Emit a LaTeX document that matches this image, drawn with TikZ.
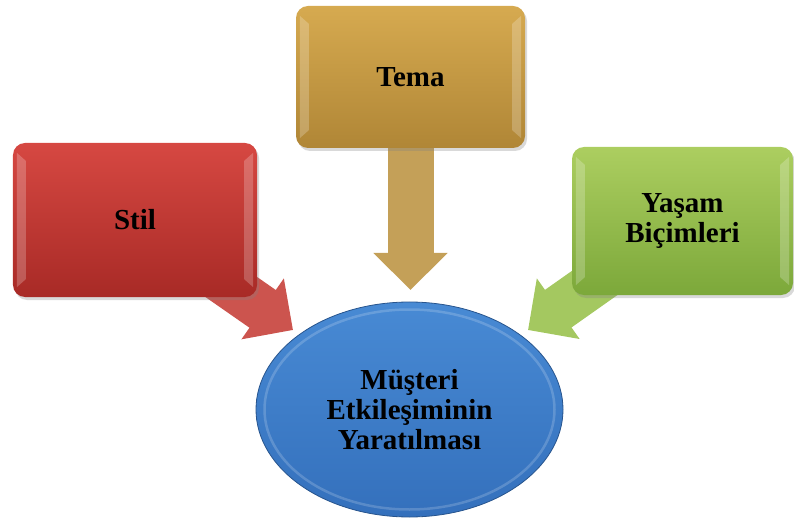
\documentclass[tikz,border=0pt]{standalone}
\usepackage{fontspec}
\setmainfont{Liberation Serif}
\usetikzlibrary{shapes.geometric,arrows.meta,shadows,backgrounds}
\definecolor{redtop}{RGB}{214,72,66}
\definecolor{redbot}{RGB}{168,42,38}
\definecolor{redarrow}{RGB}{204,84,78}
\definecolor{goldtop}{RGB}{214,170,80}
\definecolor{goldbot}{RGB}{176,134,54}
\definecolor{goldarrow}{RGB}{196,160,88}
\definecolor{greentop}{RGB}{172,206,96}
\definecolor{greenbot}{RGB}{124,168,58}
\definecolor{greenarrow}{RGB}{164,200,96}
\definecolor{bluetop}{RGB}{72,138,212}
\definecolor{bluebot}{RGB}{52,112,188}
\begin{document}
\begin{tikzpicture}
      [x=1bp, y=-1bp,
      box/.style={rounded corners=12bp, inner sep=0pt, align=center,
        font=\bfseries\fontsize{29bp}{30bp}\selectfont,
        drop shadow={shadow xshift=2bp, shadow yshift=-3bp, opacity=0.3}},
      blockarrow/.style={line width=46bp, -{Triangle[length=37bp, width=72bp]}}]
      \useasboundingbox (0,0) rectangle (794,520);
      \node[box, top color=redtop, bottom color=redbot,
        minimum width=244bp, minimum height=154bp](1) at (135, 220) {Stil};
      \node[box, top color=goldtop, bottom color=goldbot,
        minimum width=229bp, minimum height=142bp](2) at (410.5, 77) {Tema};
      \node[box, top color=greentop, bottom color=greenbot,
        minimum width=221bp, minimum height=148bp](3) at (682.5, 221) {Yaşam\\Biçimleri};
      \node[ellipse, inner sep=0pt, align=center, top color=bluetop, bottom color=bluebot,
        draw=bluebot!75!black, line width=0.8bp,
        font=\bfseries\fontsize{29bp}{30bp}\selectfont,
        minimum width=307bp, minimum height=215bp](5) at (409.5, 409.5) {Müşteri\\Etkileşiminin\\Yaratılması};
      \draw[white, opacity=0.18, line width=2.5bp] (5.center) ellipse [x radius=145, y radius=100];
      % arrow tips
      \coordinate(6) at (293, 330);
      \coordinate(7) at (410.5, 290);
      \coordinate(8) at (528, 330);
      \begin{scope}[on background layer]
        \draw[blockarrow, redarrow](1.center) -- (6);
        \draw[blockarrow, goldarrow](2.center) -- (7);
        \draw[blockarrow, greenarrow](3.center) -- (8);
      \end{scope}
      % bevel highlights
      \foreach \n in {1, 2, 3} {
        \fill[white, opacity=0.22] ([xshift=4bp, yshift=-10bp]\n.north west) -- ([xshift=13bp, yshift=-18bp]\n.north west)
          -- ([xshift=13bp, yshift=18bp]\n.south west) -- ([xshift=4bp, yshift=10bp]\n.south west) -- cycle;
        \fill[white, opacity=0.22] ([xshift=-4bp, yshift=-10bp]\n.north east) -- ([xshift=-13bp, yshift=-18bp]\n.north east)
          -- ([xshift=-13bp, yshift=18bp]\n.south east) -- ([xshift=-4bp, yshift=10bp]\n.south east) -- cycle;
      }
  \end{tikzpicture}
\end{document}
